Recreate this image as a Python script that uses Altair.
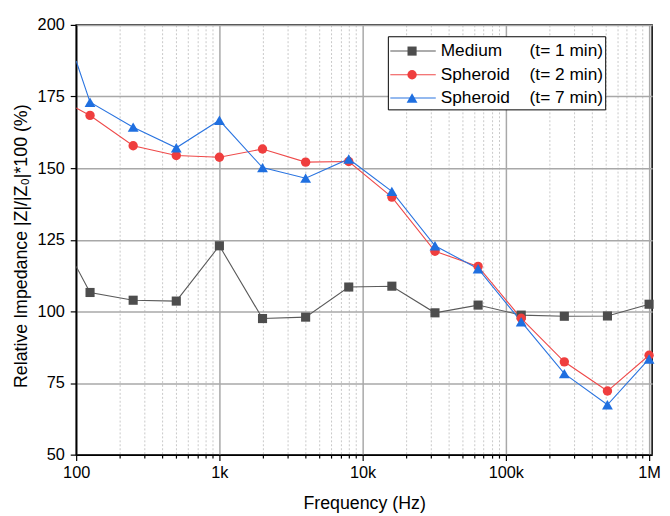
import altair as alt
import pandas as pd

# ---- data ----
freqs = [125, 250, 500, 1000, 2000, 4000, 8000, 16000, 32000, 64000,
         128000, 256000, 512000, 1000000]
medium = [106.6, 103.9, 103.6, 122.9, 97.5, 98.0, 108.5, 108.8, 99.5, 102.2,
          98.7, 98.3, 98.4, 102.5]
spheroid_2 = [168.4, 157.8, 154.4, 153.8, 156.7, 152.1, 152.3, 139.9, 121.0,
              115.7, 97.6, 82.4, 72.2, 84.7]
spheroid_7 = [173.0, 164.3, 157.1, 166.7, 150.2, 146.5, 153.2, 141.9, 122.9,
              114.9, 96.4, 78.3, 67.4, 83.4]
# line values where the curves enter the plot at its left edge (100 Hz)
edge_freq = 100
edge_values = [115.7, 171.0, 187.4]

series_names = ["Medium", "Spheroid", "Spheroid"]
series_times = ["(t= 1 min)", "(t= 2 min)", "(t= 7 min)"]
series_keys = ["Medium (t= 1 min)", "Spheroid (t= 2 min)", "Spheroid (t= 7 min)"]
series_colors = ["#4d4d4d", "#ef3e3e", "#1f6fe0"]
line_colors = ["#5a5a5a", "#ef4a4a", "#2a74e0"]
series_shapes = ["square", "circle", "triangle-up"]
series_sizes = [85, 90, 120]

x_ticks_major = [100, 1000, 10000, 100000, 1000000]
x_tick_labels = ["100", "1k", "10k", "100k", "1M"]
x_ticks_all = [m * d for d in [100, 1000, 10000, 100000] for m in range(1, 10)] + [1000000]
y_ticks_all = [50 + 12.5 * i for i in range(13)]

values = [medium, spheroid_2, spheroid_7]
rows = []
for key, vals, ev in zip(series_keys, values, edge_values):
    rows.append({"series": key, "freq": edge_freq, "z": ev, "marker": False})
    for f, v in zip(freqs, vals):
        rows.append({"series": key, "freq": f, "z": v, "marker": True})
df = pd.DataFrame(rows)

W, H = 583, 435
FONT = "Liberation Sans"

label_map = " : ".join(
    f"datum.value == {v} ? '{l}'" for v, l in zip(x_ticks_major, x_tick_labels)
) + " : ''"
is_major_x = "abs(log(datum.value)/LN10 - round(log(datum.value)/LN10)) < 1e-6"

x_scale = alt.Scale(type="log", domain=[100, 1050000], nice=False)
y_scale = alt.Scale(domain=[50, 200], nice=False, zero=False)

x_axis = alt.Axis(
    values=x_ticks_all,
    labelExpr=label_map,
    labelOverlap=False,
    labelFlush=False,
    labelPadding=4,
    title="Frequency (Hz)",
    titlePadding=14,
    grid=True,
    gridColor={"condition": {"test": is_major_x, "value": "#a8a8a8"}, "value": "#c8c8c8"},
    gridDash={"condition": {"test": is_major_x, "value": []}, "value": [2, 2]},
    gridWidth={"condition": {"test": is_major_x, "value": 1.5}, "value": 1},
    tickSize={"condition": {"test": is_major_x, "value": 6}, "value": 3.5},
)
y_axis = alt.Axis(
    values=y_ticks_all,
    labelExpr="datum.value % 25 == 0 ? format(datum.value, 'd') : ''",
    labelOverlap=False,
    labelFlush=False,
    labelPadding=6,
    title="Relative Impedance |Z|/|Z₀|*100 (%)",
    titleX=-55,
    titleY=H / 2 + 6,
    titleBaseline="middle",
    grid=True,
    gridColor="#a8a8a8",
    gridWidth=1.5,
    gridOpacity={"condition": {"test": "datum.value % 25 == 0", "value": 1}, "value": 0},
    tickSize={"condition": {"test": "datum.value % 25 == 0", "value": 6}, "value": 3.5},
)

color_scale = alt.Scale(domain=series_keys, range=line_colors)

lines = alt.Chart(df).mark_line(strokeWidth=1.1, clip=True).encode(
    x=alt.X("freq:Q", scale=x_scale, axis=x_axis),
    y=alt.Y("z:Q", scale=y_scale, axis=y_axis),
    color=alt.Color("series:N", scale=color_scale, legend=None),
    detail="series:N",
)

layers = [lines]
for key, col, shp, sz in zip(series_keys, series_colors, series_shapes, series_sizes):
    pts = alt.Chart(df).transform_filter(
        (alt.datum.series == key) & (alt.datum.marker == True)
    ).mark_point(shape=shp, filled=True, opacity=1, size=sz, color=col, strokeWidth=0).encode(
        x=alt.X("freq:Q", scale=x_scale),
        y=alt.Y("z:Q", scale=y_scale),
    )
    layers.append(pts)

# ---- legend box (drawn as marks, positioned in pixels) ----
leg_df = pd.DataFrame({"k": [0]})
box = alt.Chart(leg_df).mark_rect(fill="white", stroke="black", strokeWidth=1).encode(
    x=alt.value(316), x2=alt.value(536), y=alt.value(12), y2=alt.value(86)
)
layers.append(box)
row_y = [26.5, 50.5, 74]
for name, t, col, lcol, shp, sz, ry in zip(series_names, series_times, series_colors,
                                           line_colors, series_shapes, series_sizes, row_y):
    layers.append(alt.Chart(leg_df).mark_rule(color=lcol, strokeWidth=1.1).encode(
        x=alt.value(318), x2=alt.value(364), y=alt.value(ry)))
    layers.append(alt.Chart(leg_df).mark_point(shape=shp, filled=True, opacity=1, size=sz,
                                               color=col, strokeWidth=0).encode(
        x=alt.value(340), y=alt.value(ry)))
    layers.append(alt.Chart(leg_df).mark_text(text=name, align="left", baseline="middle",
                                              font=FONT, fontSize=17.5, color="black").encode(
        x=alt.value(369), y=alt.value(ry)))
    layers.append(alt.Chart(leg_df).mark_text(text=t, align="left", baseline="middle",
                                              font=FONT, fontSize=17.5, color="black").encode(
        x=alt.value(459), y=alt.value(ry)))

chart = alt.layer(*layers).properties(
    width=W, height=H,
    autosize=alt.AutoSizeParams(type="none"),
    padding={"left": 69, "top": 14, "right": 10, "bottom": 59},
).configure_view(
    stroke="black", strokeWidth=1.5
).configure_axis(
    domainColor="black", domainWidth=1.5, tickColor="black", tickWidth=1.2,
    labelFont=FONT, labelFontSize=16.5, labelColor="black",
    titleFont=FONT, titleFontSize=18, titleFontWeight="normal", titleColor="black",
)

chart.save("out.html", embed_options={"renderer": "svg", "actions": False})
